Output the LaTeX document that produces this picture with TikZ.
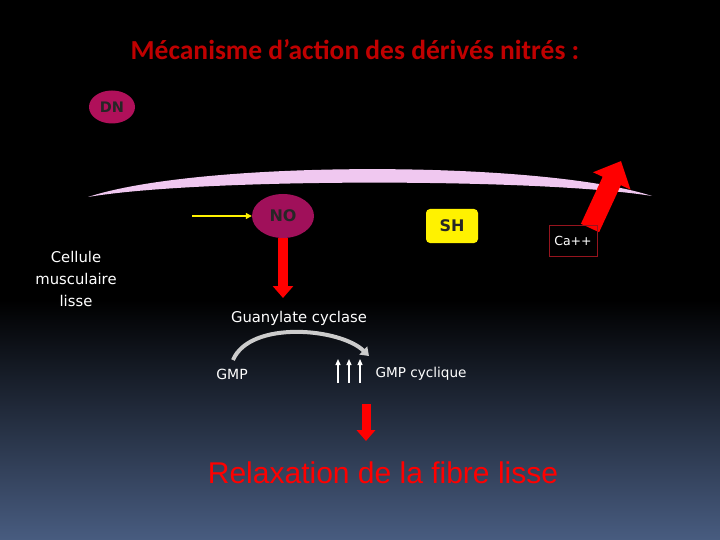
\documentclass[tikz,border=0pt]{standalone}
\usepackage{fontspec}
\setmainfont{Carlito}
\newfontfamily\arialfont{Liberation Sans}
\newfontfamily\verdfont{DejaVu Sans}
\usetikzlibrary{arrows.meta, shapes.geometric}
\definecolor{titlered}{RGB}{192,0,0}
\definecolor{dnpink}{RGB}{176,16,90}
\definecolor{nopink}{RGB}{160,16,90}
\definecolor{memb}{RGB}{240,200,240}
\definecolor{cabord}{RGB}{150,20,30}
\definecolor{bgblue}{RGB}{72,92,128}
\tikzset{
  bubble/.style={ellipse, fill=#1, text=black!85, font=\verdfont\bfseries\fontsize{15}{15}\selectfont, inner sep=0pt},
  whitetxt/.style={text=white, font=\verdfont\fontsize{14.8}{22}\selectfont, align=center},
  bigred/.style={draw=red, line width=#1, -{Triangle[width=2*#1, length=1.2*#1]}},
}
\begin{document}
\begin{tikzpicture}[x=1pt,y=-1pt]
\fill[black] (0,0) rectangle (720,540);
\shade[top color=black, bottom color=bgblue] (0,300) rectangle (720,540);
\useasboundingbox (0,0) rectangle (720,540);
% title
\node[text=titlered, font=\bfseries\fontsize{27.5}{30}\selectfont] (title) at (355,50) {Mécanisme d’action des dérivés nitrés :};
\node[bubble=dnpink, minimum width=46pt, minimum height=33pt, font=\verdfont\bfseries\fontsize{14.5}{14}\selectfont] (dn) at (112,107) {DN};
% membrane
\fill[memb] (88,197) .. controls (200,160) and (540,160) .. (652,196)
  .. controls (540,178) and (200,178) .. cycle;
\coordinate (catail) at (590,228);
\coordinate (catip) at (621,161);
\draw[draw=red, line width=20pt, -{Triangle[width=40pt, length=22pt]}] (catail) -- (catip);
\node[bubble=nopink, minimum width=62pt, minimum height=44pt, font=\verdfont\bfseries\fontsize{16}{16}\selectfont] (no) at (283,216) {NO};
\coordinate (yin) at (192,216);
\draw[yellow, line width=1.2pt, -{Triangle[width=6pt,length=6pt]}] (yin) -- (no.west);
\node[fill=yellow, rounded corners=4pt, minimum width=52pt, minimum height=34pt, text=black!85, font=\verdfont\bfseries\fontsize{16}{16}\selectfont] (sh) at (452,226) {SH};
\node[draw=cabord, line width=1pt, minimum width=48pt, minimum height=30pt, whitetxt, font=\verdfont\fontsize{12.5}{14}\selectfont] (ca) at (573,241) {Ca++};
\node[whitetxt] (cell) at (76,279) {Cellule\\musculaire\\lisse};
\node[whitetxt] (gc) at (299,318) {Guanylate cyclase};
\draw[bigred=10pt] (no.south) -- (283,298);
\node[whitetxt, font=\verdfont\fontsize{14}{15}\selectfont] (gmp) at (232,374) {GMP};
\node[whitetxt, font=\verdfont\fontsize{13.6}{15}\selectfont] (cgmp) at (421,374) {GMP cyclique};
\draw[gray!40, line width=4pt, -{Triangle[width=11pt,length=8pt]}] (233,360) .. controls (250,320) and (340,328) .. (369,356);
\foreach \x in {338,349,360}
  \draw[white, line width=1.2pt, -{Triangle[width=5pt,length=6pt]}] (\x,383) -- (\x,359);
\coordinate (rtop) at (366,404);
\node[text=red, font=\arialfont\fontsize{30}{32}\selectfont] (relax) at (383,473) {Relaxation de la fibre lisse};
\draw[bigred=9pt] (rtop) -- (366,441);
\end{tikzpicture}
\end{document}
